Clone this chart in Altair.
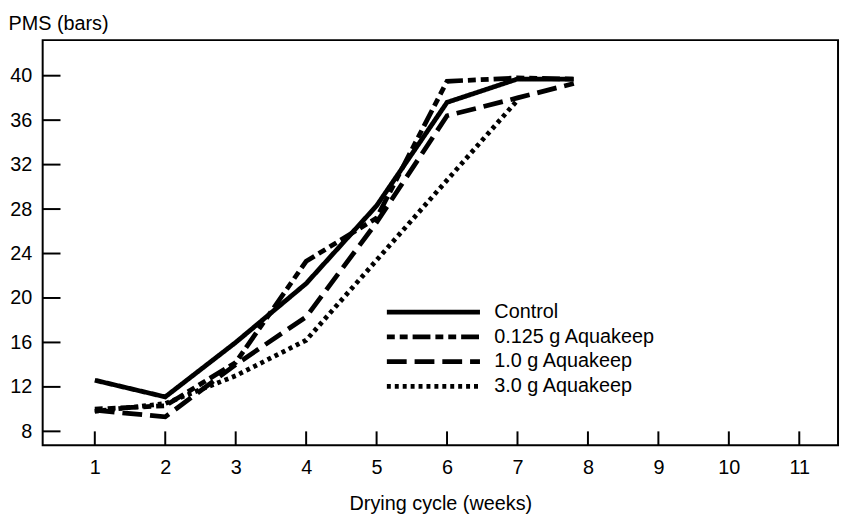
import altair as alt
import pandas as pd

# ---- data ----
weeks = [1, 2, 3, 4, 5, 6, 7, 7.8]
control = [12.6, 11.1, 16.0, 21.3, 28.3, 37.6, 39.7, 39.7]
aq_0125 = [10.0, 10.3, 14.2, 23.3, 27.2, 39.5, 39.8, 39.7]
aq_10 = [9.9, 9.3, 14.0, 18.3, 26.8, 36.4, 38.0, 39.3]
aq_30 = [9.8, 10.5, 13.0, 16.2, 23.4, 30.6, 37.8, None]

series_names = ["Control", "0.125 g Aquakeep", "1.0 g Aquakeep", "3.0 g Aquakeep"]
series_values = [control, aq_0125, aq_10, aq_30]

x_ticks = [1, 2, 3, 4, 5, 6, 7, 8, 9, 10, 11]
y_ticks = [8, 12, 16, 20, 24, 28, 32, 36, 40]

rows = []
for name, vals in zip(series_names, series_values):
    for w, v in zip(weeks, vals):
        if v is not None:
            rows.append({"week": w, "pms": v, "series": name})
df = pd.DataFrame(rows)

W, H = 803, 409
FONT = "Liberation Sans"

xscale = alt.Scale(domain=[0.26, 11.55], nice=False, zero=False)
yscale = alt.Scale(domain=[6.75, 43.2], nice=False, zero=False)

dash_range = [[1, 0], [8, 5, 8, 5, 18, 5], [20, 8], [4, 4]]

lines = alt.Chart(df).mark_line(
    color="black", strokeWidth=4.8, strokeCap="butt"
).encode(
    x=alt.X("week:Q", scale=xscale,
            axis=alt.Axis(values=x_ticks, title="Drying cycle (weeks)", format="d",
                          ticks=False, domain=False, grid=False,
                          labelPadding=13, titlePadding=16)),
    y=alt.Y("pms:Q", scale=yscale,
            axis=alt.Axis(values=y_ticks, title="PMS (bars)", format="d",
                          ticks=False, domain=False, grid=False,
                          labelPadding=11,
                          titleAngle=0, titleAlign="left",
                          titleBaseline="alphabetic",
                          titleX=-35, titleY=-11)),
    strokeDash=alt.StrokeDash(
        "series:N",
        scale=alt.Scale(domain=series_names, range=dash_range),
        legend=alt.Legend(
            title=None, orient="none", legendX=345, legendY=263,
            symbolType="stroke", symbolSize=94 * 94,
            symbolStrokeWidth=4.8, symbolStrokeColor="black",
            clipHeight=23, rowPadding=2, labelOffset=12, labelLimit=400,
            labelFontSize=20, labelFont=FONT, labelColor="black",
        ),
    ),
    order=alt.Order("week:Q"),
)

# inward-pointing tick marks
ytick_rules = alt.Chart(pd.DataFrame({"v": y_ticks})).mark_rule(
    color="black", strokeWidth=2
).encode(
    y=alt.Y("v:Q", scale=yscale),
    x=alt.value(0), x2=alt.value(18),
)

xtick_rules = alt.Chart(pd.DataFrame({"w": x_ticks})).mark_rule(
    color="black", strokeWidth=2
).encode(
    x=alt.X("w:Q", scale=xscale),
    y=alt.value(H), y2=alt.value(H - 14),
)

chart = alt.layer(lines, ytick_rules, xtick_rules).properties(
    width=W, height=H, background="white",
    autosize=alt.AutoSizeParams(type="none"),
    padding={"left": 35, "top": 30, "right": 3, "bottom": 69}
).configure_view(
    stroke="black", strokeWidth=2
).configure_axis(
    labelFont=FONT, labelFontSize=20, labelColor="black",
    titleFont=FONT, titleFontSize=20, titleColor="black", titleFontWeight="normal",
)

chart.save("out.html", embed_options={"renderer": "svg", "actions": False})
